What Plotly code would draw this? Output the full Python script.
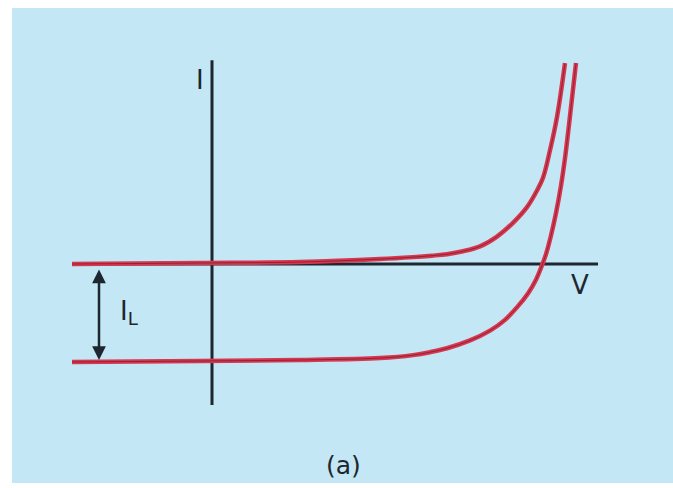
import plotly.graph_objects as go

# ---- data (V in arbitrary units, I in units of I_L) ----
dark_v = [-1.40, -0.12, 0.88, 1.68, 2.01, 2.20, 2.35, 2.51, 2.68, 2.85, 3.01, 3.15, 3.25, 3.31, 3.38, 3.45, 3.53]
dark_i = [0.00, 0.01, 0.02, 0.05, 0.07, 0.085, 0.10, 0.13, 0.18, 0.28, 0.42, 0.58, 0.75, 0.88, 1.16, 1.50, 2.05]

light_v = [-1.40, -0.12, 0.88, 1.68, 2.01, 2.18, 2.35, 2.58, 2.78, 2.93, 3.06, 3.16, 3.24, 3.29, 3.34, 3.39, 3.44, 3.49, 3.53, 3.57, 3.64]
light_i = [-1.00, -0.99, -0.98, -0.96, -0.93, -0.90, -0.86, -0.78, -0.68, -0.57, -0.43, -0.30, -0.16, -0.04, 0.10, 0.29, 0.52, 0.80, 1.08, 1.42, 2.05]

v_axis_extent = [-1.39, 3.86]   # horizontal (V) axis line
i_axis_extent = [-1.44, 2.08]   # vertical (I) axis line
il_arrow_v = -1.13
il_arrow_i = [-0.98, -0.04]

labels = ["I", "V", "I<sub>L</sub>", "(a)"]
label_v = [-0.12, 3.68, -0.94, 1.31]
label_i = [1.88, -0.21, -0.50, -2.06]

RED = "#d93650"
CORE = "#4a1820"
INK = "#1e2630"
BLUE = "#c3e7f4"

fig = go.Figure()

# axes as lines
fig.add_trace(go.Scatter(x=v_axis_extent, y=[0, 0], mode="lines",
                         line=dict(color=INK, width=3), hoverinfo="skip"))
fig.add_trace(go.Scatter(x=[0, 0], y=i_axis_extent, mode="lines",
                         line=dict(color=INK, width=3), hoverinfo="skip"))

for vv, ii in [(dark_v, dark_i), (light_v, light_i)]:
    fig.add_trace(go.Scatter(x=vv, y=ii, mode="lines",
                             line=dict(color=RED, width=4.5, shape="spline", smoothing=1.0),
                             hoverinfo="skip"))
    fig.add_trace(go.Scatter(x=vv, y=ii, mode="lines", opacity=0.55,
                             line=dict(color=CORE, width=1, shape="spline", smoothing=1.0),
                             hoverinfo="skip"))

# I_L double arrow
fig.add_annotation(x=il_arrow_v, y=il_arrow_i[0], ax=il_arrow_v, ay=il_arrow_i[1],
                   xref="x", yref="y", axref="x", ayref="y", text="",
                   showarrow=True, arrowhead=2, arrowsize=1.1, arrowwidth=2.5,
                   arrowside="end+start", arrowcolor=INK)

for t, xv, yv in zip(labels, label_v, label_i):
    fig.add_annotation(x=xv, y=yv, xref="x", yref="y", text=t, showarrow=False,
                       xanchor="left" if t.startswith("I<") else "center",
                       font=dict(family="DejaVu Sans", size=26 if t != "(a)" else 25,
                                 color=INK))

# blue background panel
fig.add_shape(type="rect", xref="paper", yref="paper",
              x0=12 / 673, x1=1.0, y0=1 - 483 / 488, y1=1 - 8 / 488,
              fillcolor=BLUE, line=dict(width=0), layer="below")

fig.update_layout(
    width=673, height=488,
    margin=dict(l=0, r=0, t=0, b=0),
    paper_bgcolor="white", plot_bgcolor="rgba(0,0,0,0)",
    showlegend=False,
    xaxis=dict(range=[-2.12, 4.61], visible=False, fixedrange=True),
    yaxis=dict(range=[-2.286, 2.694], visible=False, fixedrange=True),
)

fig.write_html("out.html", config={"displayModeBar": False, "staticPlot": True})

# remove the default page margin so the figure sits at the window's top-left corner
with open("out.html", "r", encoding="utf-8") as f:
    html = f.read()
html = html.replace("<head>", "<head><style>html,body{margin:0;padding:0;overflow:hidden;}</style>", 1)
with open("out.html", "w", encoding="utf-8") as f:
    f.write(html)
